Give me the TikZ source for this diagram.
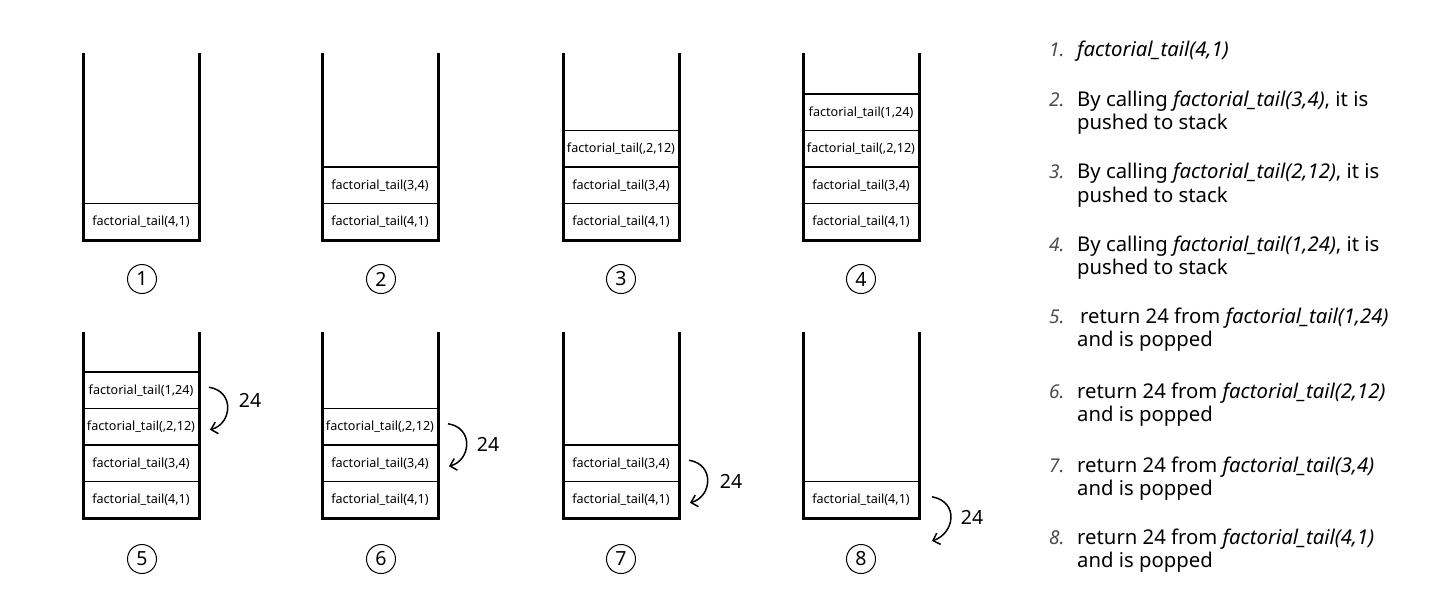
\documentclass[tikz,border=0pt]{standalone}
\usepackage{fontspec}
\setmainfont{Noto Sans}
\usetikzlibrary{arrows.meta,calc}
\begin{document}
\begin{tikzpicture}[x=1pt,y=-1pt,
  wall/.style={line width=3pt, line join=miter},
  cell/.style={draw, line width=1.7pt, outer sep=0pt, minimum width=116pt, minimum height=36.5pt, inner sep=0pt, font=\fontsize{12.6}{14}\selectfont},
  num/.style={draw, circle, line width=1pt, minimum size=29pt, inner sep=0pt, font=\fontsize{19.5}{20}\selectfont},
  ret/.style={-{Straight Barb[length=6pt,width=12pt]}, line width=1.5pt},
  lbl/.style={inner sep=0pt, font=\fontsize{19.5}{20}\selectfont},
  item/.style={anchor=base west, inner sep=0pt, font=\fontsize{20.3}{22}\selectfont},
  inum/.style={anchor=base west, inner sep=0pt, text=black!70, font=\fontsize{19}{20}\selectfont\itshape}]
\useasboundingbox (0,0) rectangle (1444,603);
\fill[white] (0,0) rectangle (1444,603);

% ---------- top row ----------
\draw[wall] (83,53) -- (83,240) -- (199,240) -- (199,53);
\node[cell, anchor=south west] (s1a) at (83,240) {factorial\_tail(4,1)};

\draw[wall] (322,53) -- (322,240) -- (438,240) -- (438,53);
\node[cell, anchor=south west] (s2a) at (322,240) {factorial\_tail(4,1)};
\node[cell, anchor=south] (s2b) at (s2a.north) {factorial\_tail(3,4)};

\draw[wall] (563,53) -- (563,240) -- (679,240) -- (679,53);
\node[cell, anchor=south west] (s3a) at (563,240) {factorial\_tail(4,1)};
\node[cell, anchor=south] (s3b) at (s3a.north) {factorial\_tail(3,4)};
\node[cell, anchor=south] (s3c) at (s3b.north) {factorial\_tail(,2,12)};

\draw[wall] (803,53) -- (803,240) -- (919,240) -- (919,53);
\node[cell, anchor=south west] (s4a) at (803,240) {factorial\_tail(4,1)};
\node[cell, anchor=south] (s4b) at (s4a.north) {factorial\_tail(3,4)};
\node[cell, anchor=south] (s4c) at (s4b.north) {factorial\_tail(,2,12)};
\node[cell, anchor=south] (s4d) at (s4c.north) {factorial\_tail(1,24)};

\node[num] (c1) at (142,279) {1};
\node[num] (c2) at (381,279) {2};
\node[num] (c3) at (621,279) {3};
\node[num] (c4) at (861,279) {4};

% ---------- bottom row ----------
\draw[wall] (83,332) -- (83,518) -- (199,518) -- (199,332);
\node[cell, anchor=south west] (s5a) at (83,518) {factorial\_tail(4,1)};
\node[cell, anchor=south] (s5b) at (s5a.north) {factorial\_tail(3,4)};
\node[cell, anchor=south] (s5c) at (s5b.north) {factorial\_tail(,2,12)};
\node[cell, anchor=south] (s5d) at (s5c.north) {factorial\_tail(1,24)};

\draw[wall] (322,332) -- (322,518) -- (438,518) -- (438,332);
\node[cell, anchor=south west] (s6a) at (322,518) {factorial\_tail(4,1)};
\node[cell, anchor=south] (s6b) at (s6a.north) {factorial\_tail(3,4)};
\node[cell, anchor=south] (s6c) at (s6b.north) {factorial\_tail(,2,12)};

\draw[wall] (563,332) -- (563,518) -- (679,518) -- (679,332);
\node[cell, anchor=south west] (s7a) at (563,518) {factorial\_tail(4,1)};
\node[cell, anchor=south] (s7b) at (s7a.north) {factorial\_tail(3,4)};

\draw[wall] (803,332) -- (803,518) -- (919,518) -- (919,332);
\node[cell, anchor=south west] (s8a) at (803,518) {factorial\_tail(4,1)};

\node[num] (c5) at (142,559) {5};
\node[num] (c6) at (381,559) {6};
\node[num] (c7) at (621,559) {7};
\node[num] (c8) at (861,559) {8};

% ---------- return arrows ----------
\draw[ret] ($(s5d.east)+(10,-3)$) .. controls +(26,4) and +(22,-6) .. ($(s5c.east)+(11,3)$);
\node[lbl] (l5) at (250,400) {24};
\draw[ret] ($(s6c.east)+(10,-3)$) .. controls +(26,4) and +(22,-6) .. ($(s6b.east)+(11,3)$);
\node[lbl] (l6) at (488,444) {24};
\draw[ret] ($(s7b.east)+(10,-3)$) .. controls +(26,4) and +(22,-6) .. ($(s7a.east)+(11,3)$);
\node[lbl] (l7) at (731,481) {24};
\coordinate (e8) at (932,541);
\draw[ret] ($(s8a.east)+(13,-3)$) .. controls +(27,5) and +(23,-8) .. (e8);
\node[lbl] (l8) at (972,517) {24};

% ---------- list ----------
\node[inum] (n1) at (1049,56) {1.};
\node[item] (t1) at (1077,56) {\textit{factorial\_tail(4,1)}};
\node[inum] (n2) at (1049,106) {2.};
\node[item] (t2) at (1077,106) {By calling \textit{factorial\_tail(3,4)}, it is};
\node[item] (t2b) at (1077,129) {pushed to stack};
\node[inum] (n3) at (1049,178) {3.};
\node[item] (t3) at (1077,178) {By calling \textit{factorial\_tail(2,12)}, it is};
\node[item] (t3b) at (1077,202) {pushed to stack};
\node[inum] (n4) at (1049,251) {4.};
\node[item] (t4) at (1077,251) {By calling \textit{factorial\_tail(1,24)}, it is};
\node[item] (t4b) at (1077,274) {pushed to stack};
\node[inum] (n5) at (1049,323) {5.};
\node[item] (t5) at (1080,323) {return 24 from \textit{factorial\_tail(1,24)}};
\node[item] (t5b) at (1077,346) {and is popped};
\node[inum] (n6) at (1049,398) {6.};
\node[item] (t6) at (1077,398) {return 24 from \textit{factorial\_tail(2,12)}};
\node[item] (t6b) at (1077,421) {and is popped};
\node[inum] (n7) at (1049,472) {7.};
\node[item] (t7) at (1077,472) {return 24 from \textit{factorial\_tail(3,4)}};
\node[item] (t7b) at (1077,495) {and is popped};
\node[inum] (n8) at (1049,544) {8.};
\node[item] (t8) at (1077,544) {return 24 from \textit{factorial\_tail(4,1)}};
\node[item] (t8b) at (1077,567) {and is popped};
\end{tikzpicture}
\end{document}
